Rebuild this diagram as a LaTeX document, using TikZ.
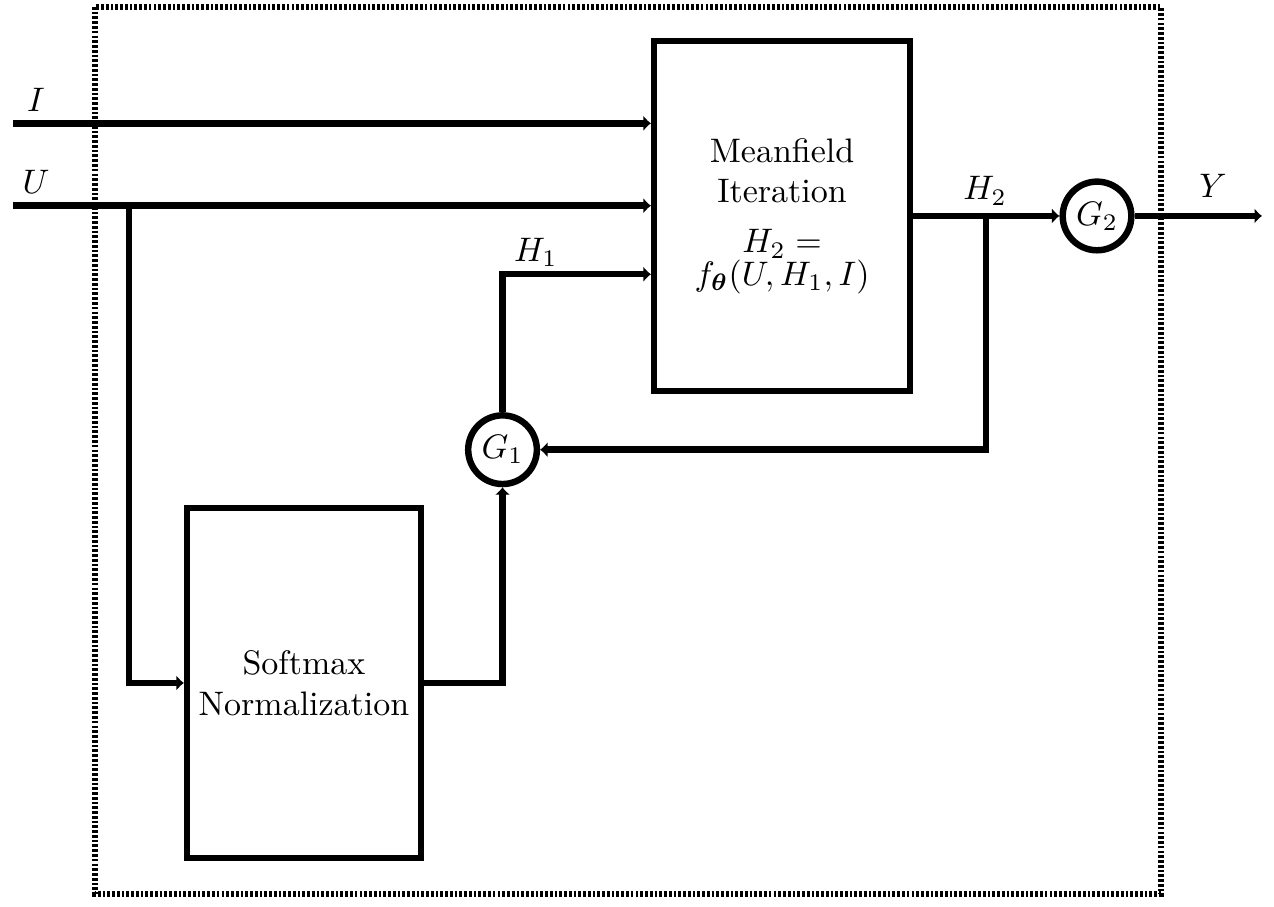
\documentclass[tikz,border=0pt]{standalone}
\usepackage{amsmath}
\usepackage{tikz}
\usetikzlibrary{calc}
\usetikzlibrary{positioning}
\usetikzlibrary{arrows.meta}
\tikzset{
	>={Latex[length=2.2pt,width=4.6pt]},
	block/.style={
		rectangle,
		draw=black, line width=1.8pt,
		minimum width=2.55cm,
		minimum height=3.62cm,
		align=center,
		inner sep=0pt},
	gain/.style={
		circle,
		draw=black, line width=1.9pt,
		minimum size=0.71cm,
		inner sep=0pt},
	line/.style={draw, line width=1.9pt, ->},
	frame/.style={draw, line width=1.7pt, dash pattern=on 0.8pt off 0.6pt},
	sig/.style={anchor=base},
}

\begin{document}
\begin{tikzpicture}
	\useasboundingbox (0,0) rectangle (13.173,-9.378);
	\path[frame] (0.982,-0.072) rectangle (12.005,-9.244);

	\node[block, minimum width=2.647cm] (mean) at (8.086,-2.233)
		{Meanfield\\Iteration\\[2.7pt]$H_2=$\\[-2.5pt]$f_{\boldsymbol{\theta}}(U,H_1,I)$};
	\node[block, minimum width=2.42cm] (soft) at (3.143,-7.062) {Softmax\\Normalization};
	\node[gain] (g1) at (5.196,-4.650) {$G_1$};
	\node[gain] (g2) at (11.343,-2.233) {$G_2$};

	\coordinate (iin) at (0.138,-1.275);
	\coordinate (uin) at (0.138,-2.127);
	\coordinate (ubr) at (1.334,-2.127);
	\coordinate (hbr) at (10.195,-2.233);
	\coordinate (yout) at (13.049,-2.233);

	\path[line] (iin) -- (iin -| mean.west);
	\path[line] (uin) -- (uin -| mean.west);
	\path[line] (ubr) |- (soft.west);
	\path[line] (soft.east) -| (g1.south);
	\path[line] (g1.north) |- ($(mean.west)+(0,-0.603)$);
	\path[line] (mean.east) -- (g2.west);
	\path[line] (hbr) |- (g1.east);
	\path[line] (g2.east) -- (yout);

	\node[sig] (li) at (0.372,-1.158) {$I$};
	\node[sig] (lu) at (0.372,-1.996) {$U$};
	\node[sig] (lh1) at (5.542,-2.706) {$H_1$};
	\node[sig] (lh2) at (10.185,-2.068) {$H_2$};
	\node[sig] (ly) at (12.542,-2.047) {$Y$};
\end{tikzpicture}
\end{document}
